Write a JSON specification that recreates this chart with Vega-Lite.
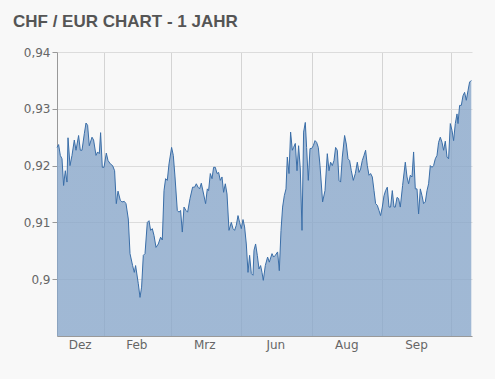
{
  "$schema": "https://vega.github.io/schema/vega-lite/v6.json",
  "width": 415,
  "height": 284,
  "autosize": "none",
  "padding": {"left": 57, "top": 52, "right": 23, "bottom": 43},
  "background": "#f8f8f8",
  "config": {"view": {"stroke": null}},
  "title": {
    "text": "CHF / EUR CHART - 1 JAHR",
    "anchor": "start",
    "frame": "group",
    "font": "Liberation Sans",
    "fontSize": 17,
    "fontWeight": "bold",
    "color": "#555555",
    "baseline": "alphabetic",
    "offset": 2,
    "dx": -44
  },
  "data": {
    "values": [
      {"t": 0, "v": 0.9232}, {"t": 1.6, "v": 0.9237}, {"t": 3.3, "v": 0.9218}, {"t": 5, "v": 0.9212},
      {"t": 6.6, "v": 0.9165}, {"t": 8.3, "v": 0.9191}, {"t": 10, "v": 0.9171}, {"t": 11, "v": 0.9249},
      {"t": 13, "v": 0.92}, {"t": 15, "v": 0.9218}, {"t": 17.3, "v": 0.9245}, {"t": 19, "v": 0.9227},
      {"t": 21.6, "v": 0.9253}, {"t": 23.3, "v": 0.9227}, {"t": 25, "v": 0.9227}, {"t": 27.3, "v": 0.9256},
      {"t": 29, "v": 0.9275}, {"t": 30.6, "v": 0.9271}, {"t": 32.3, "v": 0.9235}, {"t": 35, "v": 0.925},
      {"t": 36.6, "v": 0.9245}, {"t": 39, "v": 0.9218}, {"t": 40.6, "v": 0.9224}, {"t": 42.3, "v": 0.9221},
      {"t": 43.6, "v": 0.9258}, {"t": 45.3, "v": 0.9197}, {"t": 47, "v": 0.9197}, {"t": 49.3, "v": 0.9222},
      {"t": 51, "v": 0.9209}, {"t": 53.3, "v": 0.9203}, {"t": 55.6, "v": 0.92}, {"t": 57.6, "v": 0.9191},
      {"t": 59.3, "v": 0.9133}, {"t": 61, "v": 0.9155}, {"t": 63.3, "v": 0.9139}, {"t": 65, "v": 0.9136},
      {"t": 67.3, "v": 0.9137}, {"t": 69, "v": 0.9133}, {"t": 71.3, "v": 0.9106}, {"t": 73, "v": 0.9045},
      {"t": 75.6, "v": 0.9024}, {"t": 77.3, "v": 0.9012}, {"t": 78.6, "v": 0.9024}, {"t": 81.3, "v": 0.8992},
      {"t": 83, "v": 0.8968}, {"t": 84.6, "v": 0.8986}, {"t": 86.3, "v": 0.9042}, {"t": 88, "v": 0.9045},
      {"t": 90.3, "v": 0.91}, {"t": 92, "v": 0.9103}, {"t": 93.6, "v": 0.9086}, {"t": 95.3, "v": 0.9089},
      {"t": 97, "v": 0.9077}, {"t": 99, "v": 0.9056}, {"t": 101.3, "v": 0.9062}, {"t": 103.6, "v": 0.9074},
      {"t": 105.3, "v": 0.9069}, {"t": 107, "v": 0.9156}, {"t": 108.6, "v": 0.9177}, {"t": 110.3, "v": 0.9174},
      {"t": 112, "v": 0.9203}, {"t": 114.6, "v": 0.9232}, {"t": 116.3, "v": 0.9218}, {"t": 118, "v": 0.918},
      {"t": 120.3, "v": 0.9121}, {"t": 122, "v": 0.9118}, {"t": 123.6, "v": 0.9121}, {"t": 125.3, "v": 0.9083},
      {"t": 127, "v": 0.9127}, {"t": 129, "v": 0.9121}, {"t": 130.6, "v": 0.9118}, {"t": 133, "v": 0.9142},
      {"t": 135.6, "v": 0.9162}, {"t": 137.6, "v": 0.9162}, {"t": 139.3, "v": 0.9168}, {"t": 141, "v": 0.9162},
      {"t": 142.6, "v": 0.9159}, {"t": 144.3, "v": 0.9169}, {"t": 146.6, "v": 0.915}, {"t": 148.6, "v": 0.9133},
      {"t": 150.3, "v": 0.9159}, {"t": 151.6, "v": 0.9156}, {"t": 153.3, "v": 0.9186}, {"t": 155, "v": 0.9177},
      {"t": 156.6, "v": 0.9197}, {"t": 158.3, "v": 0.9197}, {"t": 160, "v": 0.9186}, {"t": 161.6, "v": 0.9188},
      {"t": 163.3, "v": 0.9174}, {"t": 165, "v": 0.918}, {"t": 166.6, "v": 0.9153}, {"t": 168.3, "v": 0.9168},
      {"t": 170, "v": 0.915}, {"t": 172, "v": 0.9086}, {"t": 174.3, "v": 0.91}, {"t": 176, "v": 0.9089},
      {"t": 177.6, "v": 0.9086}, {"t": 179.3, "v": 0.9095}, {"t": 181, "v": 0.9112}, {"t": 182.6, "v": 0.91},
      {"t": 184.3, "v": 0.9089}, {"t": 186, "v": 0.9105}, {"t": 187.6, "v": 0.9092}, {"t": 189.3, "v": 0.9062},
      {"t": 191, "v": 0.9012}, {"t": 192.6, "v": 0.9042}, {"t": 194.3, "v": 0.901}, {"t": 196, "v": 0.9007},
      {"t": 197, "v": 0.9051}, {"t": 198.6, "v": 0.9062}, {"t": 200.3, "v": 0.9042}, {"t": 202, "v": 0.9018},
      {"t": 203.6, "v": 0.9024}, {"t": 205, "v": 0.9012}, {"t": 206.3, "v": 0.8998}, {"t": 208.3, "v": 0.9024},
      {"t": 210.6, "v": 0.9039}, {"t": 212.3, "v": 0.903}, {"t": 215, "v": 0.9045}, {"t": 216.6, "v": 0.9039},
      {"t": 218.3, "v": 0.9042}, {"t": 220.6, "v": 0.9048}, {"t": 222.3, "v": 0.9015}, {"t": 224, "v": 0.9086},
      {"t": 225.6, "v": 0.9127}, {"t": 227.3, "v": 0.9147}, {"t": 229, "v": 0.9159}, {"t": 230.3, "v": 0.9215},
      {"t": 232, "v": 0.9186}, {"t": 233.6, "v": 0.9259}, {"t": 235.3, "v": 0.9227}, {"t": 236.6, "v": 0.9232},
      {"t": 238.3, "v": 0.9239}, {"t": 240, "v": 0.9191}, {"t": 241.6, "v": 0.9235}, {"t": 243.3, "v": 0.9194},
      {"t": 245, "v": 0.9086}, {"t": 246.6, "v": 0.9259}, {"t": 248.3, "v": 0.9276}, {"t": 249.6, "v": 0.9232},
      {"t": 251.3, "v": 0.9174}, {"t": 253, "v": 0.923}, {"t": 254.6, "v": 0.923}, {"t": 256.3, "v": 0.9235},
      {"t": 258, "v": 0.9244}, {"t": 259.6, "v": 0.9241}, {"t": 261.3, "v": 0.9232}, {"t": 263, "v": 0.92},
      {"t": 265.6, "v": 0.9136}, {"t": 268, "v": 0.9156}, {"t": 270.3, "v": 0.9221}, {"t": 272, "v": 0.9191},
      {"t": 273.6, "v": 0.9206}, {"t": 275.3, "v": 0.92}, {"t": 277, "v": 0.9209}, {"t": 278.6, "v": 0.9232},
      {"t": 280.3, "v": 0.9227}, {"t": 282, "v": 0.9174}, {"t": 283.6, "v": 0.9171}, {"t": 285.3, "v": 0.9215},
      {"t": 287.6, "v": 0.9253}, {"t": 289.3, "v": 0.9238}, {"t": 291, "v": 0.9212}, {"t": 292.6, "v": 0.9209},
      {"t": 294.3, "v": 0.9191}, {"t": 296.3, "v": 0.9174}, {"t": 298.3, "v": 0.9186}, {"t": 300.3, "v": 0.9206},
      {"t": 302, "v": 0.9188}, {"t": 303.6, "v": 0.9194}, {"t": 305.3, "v": 0.9209}, {"t": 307, "v": 0.9218},
      {"t": 308.6, "v": 0.9227}, {"t": 310.3, "v": 0.92}, {"t": 312, "v": 0.9183}, {"t": 313.6, "v": 0.9186},
      {"t": 315.3, "v": 0.918}, {"t": 317, "v": 0.9156}, {"t": 318.6, "v": 0.9133}, {"t": 320.3, "v": 0.913},
      {"t": 322, "v": 0.9121}, {"t": 323.6, "v": 0.9112}, {"t": 325.3, "v": 0.9127}, {"t": 327, "v": 0.9147},
      {"t": 328.6, "v": 0.9156}, {"t": 330.3, "v": 0.9162}, {"t": 332, "v": 0.9127}, {"t": 333.6, "v": 0.9127},
      {"t": 335.3, "v": 0.9156}, {"t": 337, "v": 0.9127}, {"t": 338.3, "v": 0.9127}, {"t": 340, "v": 0.9144},
      {"t": 341.6, "v": 0.9142}, {"t": 343.3, "v": 0.9127}, {"t": 345.6, "v": 0.9165}, {"t": 348.3, "v": 0.9206},
      {"t": 350, "v": 0.918}, {"t": 351.6, "v": 0.9168}, {"t": 353.3, "v": 0.9183}, {"t": 355, "v": 0.918},
      {"t": 356.6, "v": 0.9224}, {"t": 358.3, "v": 0.9159}, {"t": 360, "v": 0.9159}, {"t": 361.6, "v": 0.9115},
      {"t": 363.3, "v": 0.9159}, {"t": 365, "v": 0.9147}, {"t": 366.6, "v": 0.9133}, {"t": 368.3, "v": 0.9136},
      {"t": 370, "v": 0.9156}, {"t": 371.6, "v": 0.9168}, {"t": 373.3, "v": 0.92}, {"t": 375, "v": 0.9197},
      {"t": 376.6, "v": 0.92}, {"t": 378.3, "v": 0.9212}, {"t": 380, "v": 0.9218}, {"t": 381.6, "v": 0.9241},
      {"t": 383.3, "v": 0.925}, {"t": 385, "v": 0.9241}, {"t": 386.6, "v": 0.9227}, {"t": 388.3, "v": 0.9243},
      {"t": 390, "v": 0.9215}, {"t": 391.6, "v": 0.9212}, {"t": 393.3, "v": 0.9274}, {"t": 395, "v": 0.9262},
      {"t": 396.6, "v": 0.9244}, {"t": 398.3, "v": 0.9274}, {"t": 400, "v": 0.9291}, {"t": 401, "v": 0.9274},
      {"t": 402.6, "v": 0.9306}, {"t": 404.3, "v": 0.9306}, {"t": 406, "v": 0.9323}, {"t": 407.6, "v": 0.9329},
      {"t": 409.3, "v": 0.9315}, {"t": 411, "v": 0.9332}, {"t": 412.6, "v": 0.9347}, {"t": 414.3, "v": 0.935}
    ]
  },
  "encoding": {
    "y": {
      "field": "v",
      "type": "quantitative",
      "scale": {"domain": [0.89, 0.94], "nice": false, "zero": false},
      "axis": {
        "title": null,
        "values": [0.9, 0.91, 0.92, 0.93, 0.94],
        "labelExpr": "replace(format(datum.value, '.2~f'), '.', ',')",
        "labelFont": "DejaVu Sans",
        "labelFontSize": 12,
        "labelColor": "#666666",
        "labelPadding": 2,
        "tickSize": 5,
        "tickColor": "#999999",
        "domainColor": "#999999",
        "gridColor": "#dcdcdc"
      }
    }
  },
  "layer": [
    {
      "mark": {
        "type": "area",
        "clip": true,
        "opacity": 0.78,
        "color": {
          "gradient": "linear",
          "x1": 0, "y1": 0, "x2": 0, "y2": 1,
          "stops": [
            {"offset": 0, "color": "#86a5c9"},
            {"offset": 1, "color": "#a3c3e6"}
          ]
        }
      },
      "encoding": {
        "x": {
          "field": "t",
          "type": "quantitative",
          "scale": {"domain": [0, 415], "nice": false, "zero": false},
          "axis": {
            "orient": "bottom",
            "title": null,
            "values": [46.6, 113.6, 183.6, 255, 325, 394],
            "labels": false,
            "ticks": false,
            "grid": true,
            "gridColor": "#d4d4d4",
            "domainColor": "#999999"
          }
        }
      }
    },
    {
      "mark": {"type": "line", "color": "#3a6ea8", "strokeWidth": 1},
      "encoding": {
        "x": {
          "field": "t",
          "type": "quantitative",
          "axis": {
            "orient": "bottom",
            "title": null,
            "values": [22.6, 79.3, 147.3, 218.3, 289.3, 359],
            "labelExpr": "['Dez','Feb','Mrz','Jun','Aug','Sep'][indexof([22.6, 79.3, 147.3, 218.3, 289.3, 359], datum.value)]",
            "labelFont": "DejaVu Sans",
            "labelFontSize": 12,
            "labelColor": "#666666",
            "labelPadding": 3,
            "ticks": false,
            "grid": false,
            "domain": false
          }
        }
      }
    }
  ],
  "resolve": {"axis": {"x": "independent"}}
}
